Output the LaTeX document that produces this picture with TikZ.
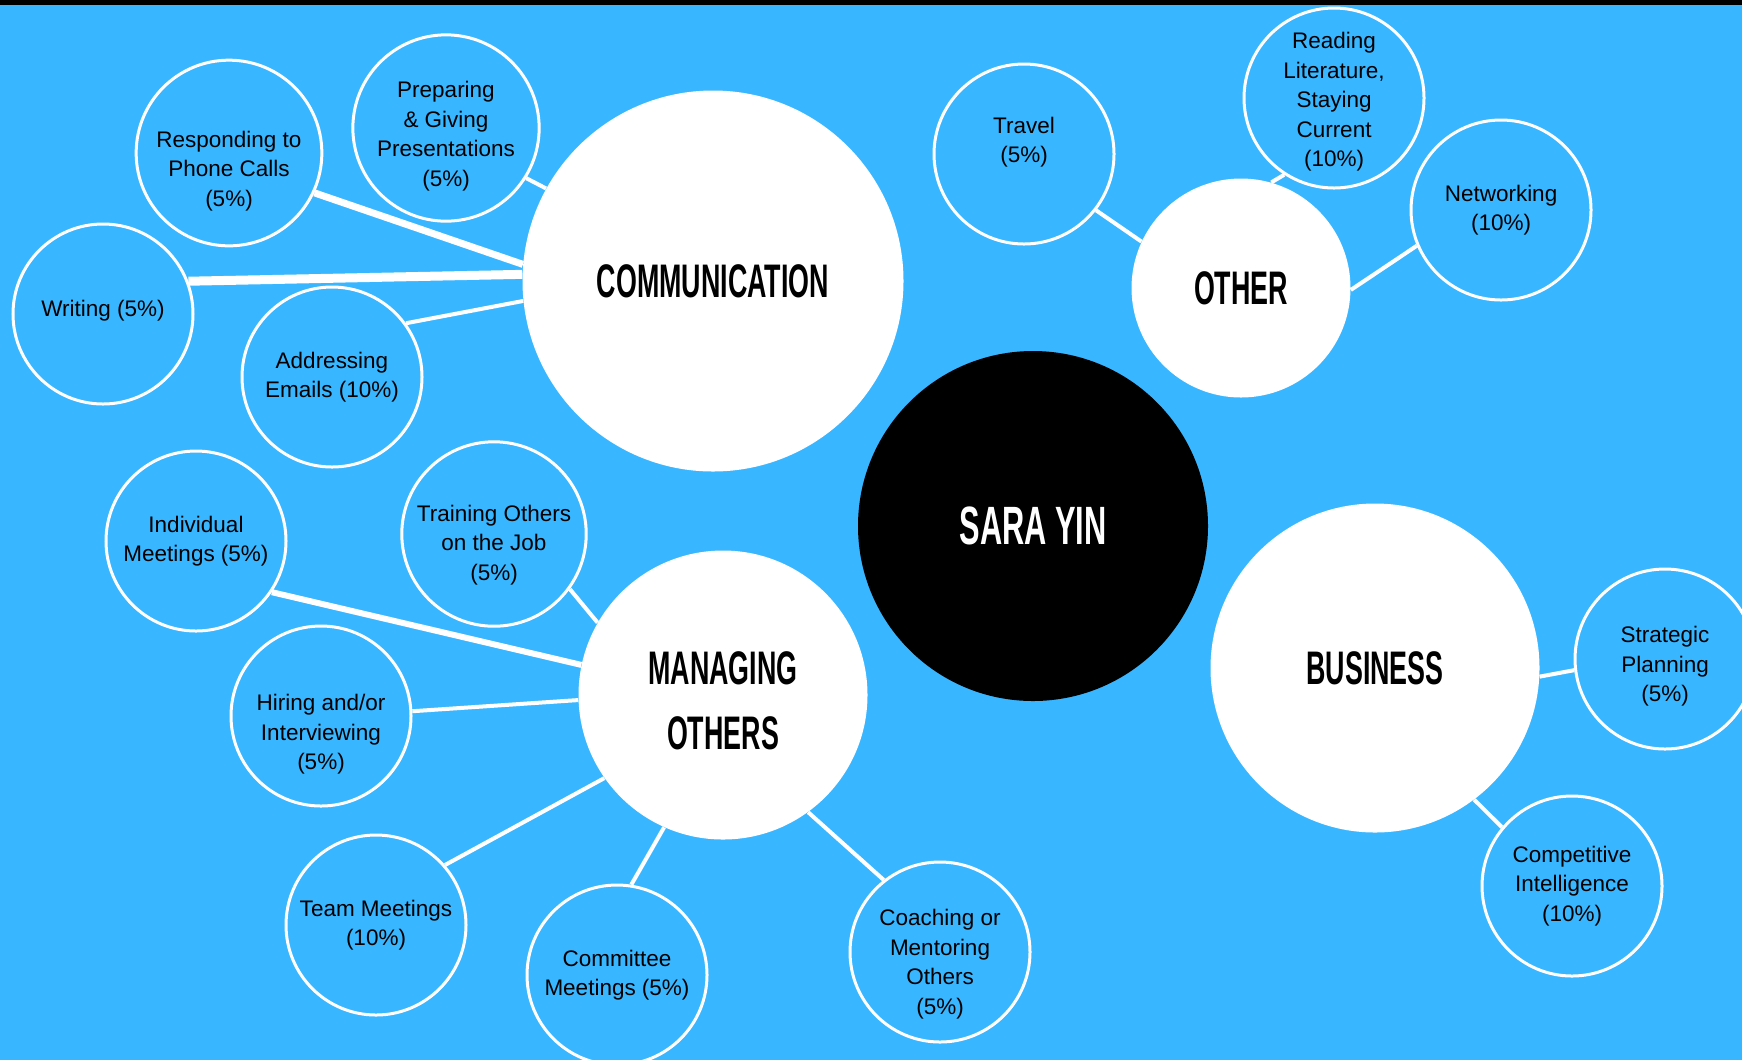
\documentclass[tikz,border=0pt]{standalone}
\usepackage{fontspec}
\setmainfont{Liberation Sans}
\newfontfamily\headfont[FakeStretch=0.57]{Liberation Sans}
\definecolor{skyblue}{HTML}{38B6FF}
% struts that move a text block down or up in its circle
\newcommand{\dropline}[1]{\rule{0pt}{#1}}
\newcommand{\raiseline}[1]{\rule[-#1]{0pt}{#1}}

\begin{document}
\begin{tikzpicture}[x=0.2mm,y=-0.2mm]
\tikzset{topic/.style = {shape=circle,fill=white,inner sep=0pt,align=center,
  font=\headfont\bfseries\fontsize{26.8}{37.4}\selectfont}}
\tikzset{task/.style = {shape=circle,draw=white,line width=0.6mm,minimum size=36mm,
  inner sep=0pt,align=center,font=\fontsize{12.8}{16.8}\selectfont}}
\tikzset{edge/.style = {draw=white,line width=0.8mm}}
% background
\fill[skyblue] (0,0) rectangle (1742,1060);
\useasboundingbox (0,0) rectangle (1742,1060);
\fill[black] (0,0) rectangle (1742,5);
% vertices
\node[topic,fill=black,text=white,minimum size=70mm,
  font=\headfont\bfseries\fontsize{30.7}{36}\selectfont] (sara) at (1033,526) {SARA YIN};
\node[topic,minimum size=76.2mm] (comm) at (713,281) {COMMUNICATION};
\node[topic,minimum size=43.8mm] (other) at (1241,288) {OTHER};
\node[topic,minimum size=57.8mm] (manage) at (723,695) {\dropline{25.4pt}MANAGING\\OTHERS};
\node[topic,minimum size=65.8mm] (business) at (1375,668) {BUSINESS};

\node[task] (phone) at (229,153) {\dropline{29.8pt}Responding to\\Phone Calls\\(5\%)};
\node[task] (present) at (446,128) {\dropline{18.4pt}Preparing\\\& Giving\\Presentations\\(5\%)};
\node[task] (writing) at (103,314) {Writing (5\%)\raiseline{6pt}};
\node[task] (emails) at (332,377) {Addressing\\Emails (10\%)};
\node[task] (travel) at (1024,154) {Travel\\(5\%)\raiseline{16pt}};
\node[task] (reading) at (1334,98) {\dropline{13.7pt}Reading\\Literature,\\Staying\\Current\\(10\%)};
\node[task] (network) at (1501,210) {Networking\\(10\%)};
\node[task] (individual) at (196,541) {Individual\\Meetings (5\%)};
\node[task] (training) at (494,534) {\dropline{21.6pt}Training Others\\on the Job\\(5\%)};
\node[task] (hiring) at (321,716) {\dropline{30.4pt}Hiring and/or\\Interviewing\\(5\%)};
\node[task] (team) at (376,925) {Team Meetings\\(10\%)};
\node[task] (committee) at (617,975) {Committee\\Meetings (5\%)};
\node[task] (coaching) at (940,952) {\dropline{22.9pt}Coaching or\\Mentoring\\Others\\(5\%)};
\node[task] (strategic) at (1665,659) {\dropline{17.7pt}Strategic\\Planning\\(5\%)};
\node[task] (compete) at (1572,886) {Competitive\\Intelligence\\(10\%)};
%edges
\path[edge] (present.-32) -- (comm.151.6);
\path[edge,line width=1.4mm] (phone.-25) -- (comm.175.5);
\path[edge,line width=1.8mm] (writing.21) -- (comm.178);
\path[edge] (emails.36) -- (comm.186.6);

\path[edge] (travel.-38) -- (other.155.5);
\path[edge] (reading.237.7) -- (other.74);
\path[edge] (network.203.6) -- (other.-1.7);

\path[edge,line width=1.2mm] (individual.-34.6) -- (manage.168);
\path[edge] (training.-36.6) -- (manage.150);
\path[edge] (hiring.3) -- (manage.182.9);
\path[edge] (team.41.5) -- (manage.215);
\path[edge] (committee.81) -- (manage.246.5);
\path[edge] (coaching.128) -- (manage.-54.3);

\path[edge] (strategic.187) -- (business.-3);
\path[edge] (compete.140.5) -- (business.-53.4);

\end{tikzpicture}
\end{document}
